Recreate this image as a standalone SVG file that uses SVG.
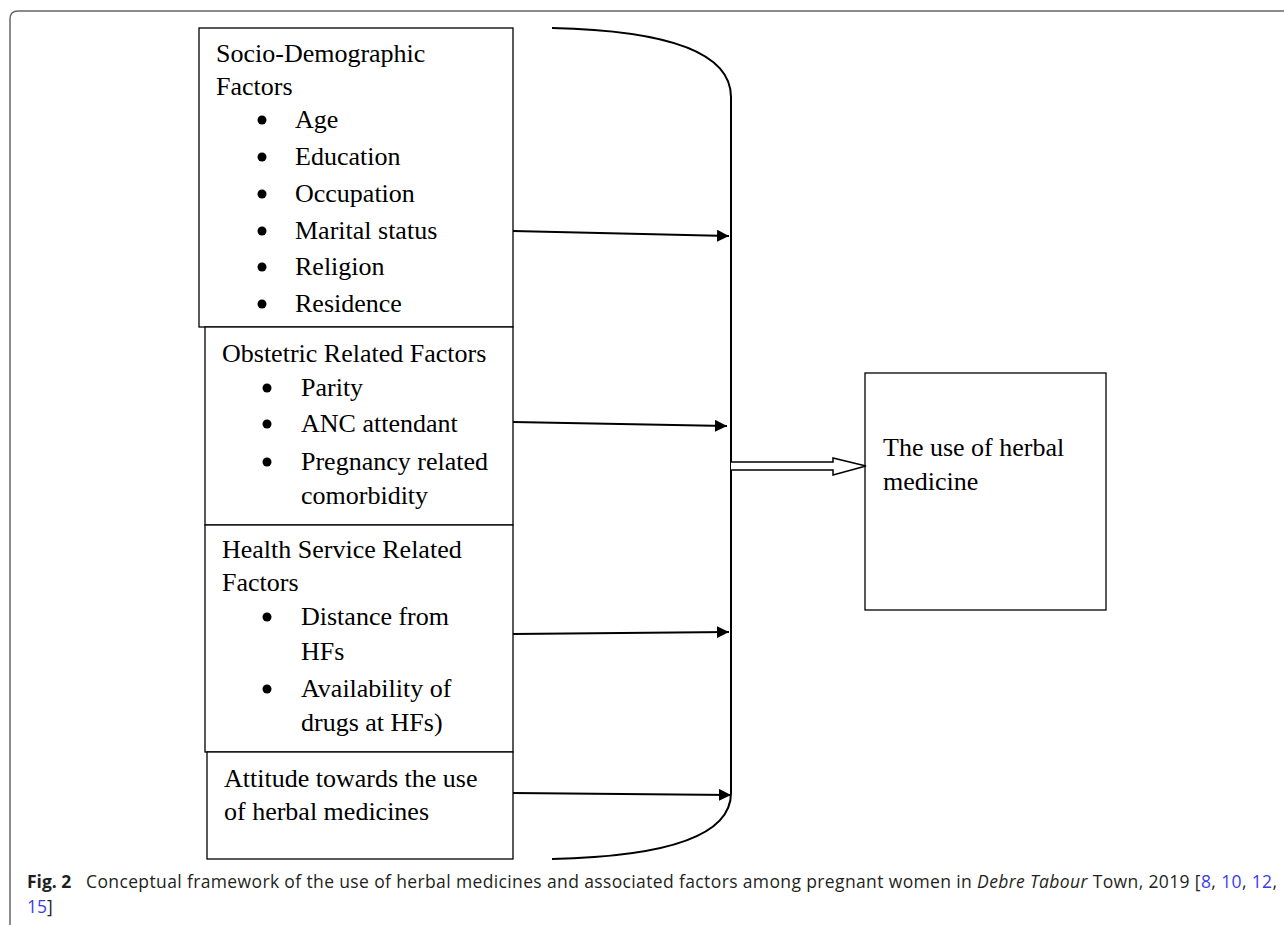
<svg xmlns="http://www.w3.org/2000/svg" width="1284" height="925" viewBox="0 0 1284 925">
<style>
.box{fill:#fff;stroke:#000;stroke-width:1.3}
.t{font-family:"Liberation Serif","Times New Roman",serif;font-size:26px;fill:#000}
.b{fill:#000}
.ln{fill:none;stroke:#000;stroke-width:2}
.cap{font-family:"Open Sans","Noto Sans",sans-serif;font-size:17.5px;fill:#231f20}
.lnk{fill:#3b3bf0}
</style>
<defs>
<marker id="ah" viewBox="0 0 10 10" refX="10" refY="5" markerWidth="6" markerHeight="6" markerUnits="strokeWidth" orient="auto">
<path d="M0,0 L10,5 L0,10 z" fill="#000"/>
</marker>
</defs>
<path d="M10,925 L10,19 Q10,11 18,11 L1284,11" fill="none" stroke="#666" stroke-width="1.5"/>
<g id="socio">
<rect class="box" x="199" y="28" width="314" height="299"/>
<text class="t" x="216" y="62">Socio-Demographic</text>
<text class="t" x="216" y="95">Factors</text>
<circle class="b" cx="262" cy="120" r="4.5"/><text class="t" x="295" y="128">Age</text>
<circle class="b" cx="262" cy="157" r="4.5"/><text class="t" x="295" y="165">Education</text>
<circle class="b" cx="262" cy="194" r="4.5"/><text class="t" x="295" y="202">Occupation</text>
<circle class="b" cx="262" cy="231" r="4.5"/><text class="t" x="295" y="239">Marital status</text>
<circle class="b" cx="262" cy="267" r="4.5"/><text class="t" x="295" y="275">Religion</text>
<circle class="b" cx="262" cy="304" r="4.5"/><text class="t" x="295" y="312">Residence</text>
</g>
<g id="obstetric">
<rect class="box" x="205" y="327" width="308" height="198"/>
<text class="t" x="222" y="362">Obstetric Related Factors</text>
<circle class="b" cx="267" cy="388" r="4.5"/><text class="t" x="301" y="396">Parity</text>
<circle class="b" cx="267" cy="424" r="4.5"/><text class="t" x="301" y="432">ANC attendant</text>
<circle class="b" cx="267" cy="462" r="4.5"/><text class="t" x="301" y="470">Pregnancy related</text>
<text class="t" x="301" y="504">comorbidity</text>
</g>
<g id="health">
<rect class="box" x="205" y="525" width="308" height="227"/>
<text class="t" x="222" y="558">Health Service Related</text>
<text class="t" x="222" y="591">Factors</text>
<circle class="b" cx="267" cy="617" r="4.5"/><text class="t" x="301" y="625">Distance from</text>
<text class="t" x="301" y="660">HFs</text>
<circle class="b" cx="267" cy="689" r="4.5"/><text class="t" x="301" y="697">Availability of</text>
<text class="t" x="301" y="731">drugs at HFs)</text>
</g>
<g id="attitude">
<rect class="box" x="207" y="752" width="306" height="107"/>
<text class="t" x="224" y="787">Attitude towards the use</text>
<text class="t" x="224" y="820">of herbal medicines</text>
</g>
<g id="outcome">
<rect class="box" x="865" y="373" width="241" height="237"/>
<text class="t" x="883" y="456">The use of herbal</text>
<text class="t" x="883" y="490">medicine</text>
</g>
<g id="connectors">
<path class="ln" d="M552,28 Q731,32 731,97 L731,793 Q731,855 552,859"/>
<line class="ln" x1="513" y1="231" x2="729" y2="236" marker-end="url(#ah)"/>
<line class="ln" x1="513" y1="422" x2="727" y2="426" marker-end="url(#ah)"/>
<line class="ln" x1="513" y1="634" x2="729" y2="632" marker-end="url(#ah)"/>
<line class="ln" x1="513" y1="793" x2="731" y2="795" marker-end="url(#ah)"/>
<path d="M731,462 L833,462 L833,458 L866,466 L833,475 L833,470 L731,470" fill="#fff" stroke="#000" stroke-width="1.5"/>
</g>
<g id="caption">
<text class="cap" x="27" y="888"><tspan font-weight="bold">Fig. 2</tspan></text>
<text class="cap" x="86" y="888" textLength="1191" lengthAdjust="spacing">Conceptual framework of the use of herbal medicines and associated factors among pregnant women in <tspan font-style="italic">Debre Tabour</tspan> Town, 2019 [<tspan class="lnk">8</tspan>, <tspan class="lnk">10</tspan>, <tspan class="lnk">12</tspan>,</text>
<text class="cap" x="27" y="913"><tspan class="lnk">15</tspan>]</text>
</g>
</svg>
